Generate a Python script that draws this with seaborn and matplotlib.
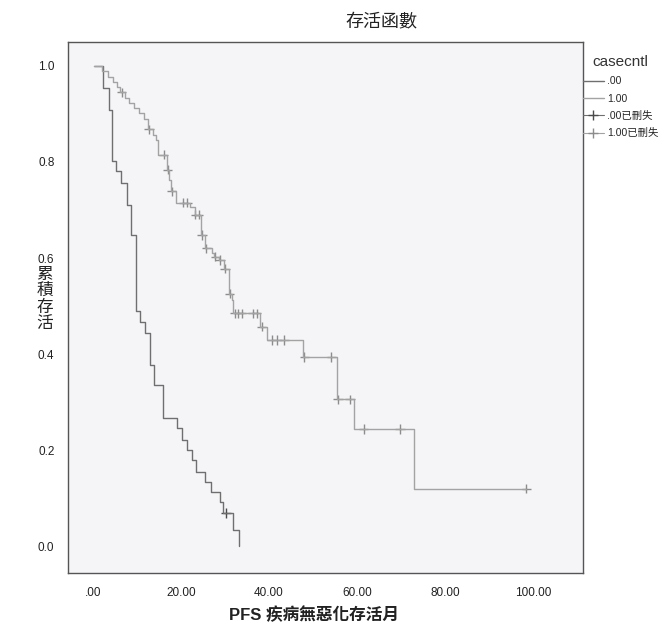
import bisect
import pandas as pd
import matplotlib
matplotlib.use("Agg")
import matplotlib.pyplot as plt
from matplotlib.lines import Line2D
import seaborn as sns

# ---- data ----
# casecntl .00 : event times (months) and survival after each event
t_00 = [0.3, 2.3, 3.6, 4.3, 5.3, 6.4, 7.8, 8.6, 9.8, 10.7, 11.8, 13.0, 13.9,
        15.9, 19.1, 20.2, 21.4, 22.5, 23.4, 25.5, 26.8, 28.9, 29.5, 31.8, 33.1]
s_00 = [1.0, 0.954, 0.908, 0.802, 0.781, 0.756, 0.710, 0.648, 0.490, 0.467,
        0.444, 0.377, 0.335, 0.267, 0.246, 0.221, 0.200, 0.179, 0.154, 0.133,
        0.112, 0.092, 0.069, 0.033, 0.0]
cens_00 = [30.2]

# casecntl 1.00
t_100 = [0.3, 2.0, 3.4, 4.5, 5.5, 6.2, 7.3, 8.3, 9.3, 10.5, 11.6, 12.5, 13.6,
         14.4, 14.8, 16.8, 17.3, 17.7, 18.9, 22.0, 23.1, 24.6, 25.5, 27.0,
         27.5, 28.6, 29.8, 31.0, 31.5, 31.9, 38.0, 39.5, 47.8, 55.5, 59.4,
         73.0, 98.5]
s_100 = [1.0, 0.989, 0.978, 0.967, 0.956, 0.945, 0.934, 0.923, 0.912, 0.901,
         0.890, 0.868, 0.857, 0.846, 0.815, 0.784, 0.763, 0.739, 0.715, 0.706,
         0.690, 0.648, 0.620, 0.610, 0.603, 0.596, 0.578, 0.526, 0.512, 0.485,
         0.457, 0.429, 0.394, 0.306, 0.244, 0.120, 0.120]
cens_100 = [6.5, 12.7, 16.1, 17.0, 17.9, 20.5, 21.4, 23.3, 24.0, 24.8, 25.8,
            27.8, 28.9, 30.0, 31.1, 32.3, 33.0, 33.8, 36.4, 37.2, 38.3, 40.6,
            41.8, 43.4, 48.0, 54.2, 55.7, 58.4, 61.5, 69.8, 98.5]

x_ticks = [0, 20, 40, 60, 80, 100]
x_ticklabels = [".00", "20.00", "40.00", "60.00", "80.00", "100.00"]
y_ticks = [0.0, 0.2, 0.4, 0.6, 0.8, 1.0]
y_ticklabels = ["0.0", "0.2", "0.4", "0.6", "0.8", "1.0"]
groups = [".00", "1.00"]
legend_labels = [".00", "1.00", ".00已刪失", "1.00已刪失"]


def surv_at(times, surv, c):
    # value of the step function at censoring time c
    return surv[bisect.bisect_right(times, c) - 1]


curves = pd.concat([
    pd.DataFrame({"t": t_00, "s": s_00, "grp": groups[0]}),
    pd.DataFrame({"t": t_100, "s": s_100, "grp": groups[1]}),
])
censored = pd.concat([
    pd.DataFrame({"t": cens_00, "s": [surv_at(t_00, s_00, c) for c in cens_00], "grp": groups[0]}),
    pd.DataFrame({"t": cens_100, "s": [surv_at(t_100, s_100, c) for c in cens_100], "grp": groups[1]}),
])

sns.set_style("white")
plt.rcParams["font.family"] = ["Liberation Sans", "Noto Sans CJK TC"]

line_cols = {".00": "#6f6f6f", "1.00": "#a3a3a3"}
mark_cols = {".00": "#4a4a4a", "1.00": "#8c8c8c"}

fig = plt.figure(figsize=(6.6, 6.36), dpi=100)
ax = fig.add_axes([0.1035, 0.099, 0.7795, 0.8355])
ax.set_facecolor("#f5f5f7")

sns.lineplot(data=curves, x="t", y="s", hue="grp", palette=line_cols,
             drawstyle="steps-post", estimator=None, sort=False,
             linewidth=1.0, legend=False, ax=ax)
sns.scatterplot(data=censored, x="t", y="s", hue="grp", palette=mark_cols,
                marker="+", s=45, linewidth=1.0, legend=False, ax=ax)

ax.set_xlim(-5.6, 111.3)
ax.set_ylim(-0.056, 1.0506)
ax.set_xticks(x_ticks)
ax.set_xticklabels(x_ticklabels)
ax.set_yticks(y_ticks)
ax.set_yticklabels(y_ticklabels)
ax.tick_params(direction="out", length=7, width=1.0, color="#333333",
               labelsize=8.5, labelcolor="#222222", pad=3)
ax.set_xlabel("")
ax.set_ylabel("")
for sp in ax.spines.values():
    sp.set_visible(True)
    sp.set_color("#555555")
    sp.set_linewidth(1.0)

# titles, SPSS style
fig.text(0.578, 0.965, "存活函數", ha="center", va="center", fontsize=13,
         color="#222222")
fig.text(0.476, 0.033, "PFS 疾病無惡化存活月", ha="center", va="center",
         fontsize=12, fontweight="bold", color="#222222")
# vertical y title sits between the 0.6 and 0.4 tick labels
fig.text(0.068, 0.530, "累\n積\n存\n活", ha="center", va="center",
         fontsize=12, linespacing=1.1, color="#222222")

handles = [
    Line2D([], [], color=line_cols[".00"], lw=1.0),
    Line2D([], [], color=line_cols["1.00"], lw=1.0),
    Line2D([], [], color=line_cols[".00"], lw=0.8, marker="+", markersize=7,
           markeredgecolor=mark_cols[".00"]),
    Line2D([], [], color=line_cols["1.00"], lw=0.8, marker="+", markersize=7,
           markeredgecolor=mark_cols["1.00"]),
]
leg = ax.legend(handles, legend_labels, title="casecntl", loc="upper left",
                bbox_to_anchor=(1.0, 0.975), frameon=False, fontsize=7.5,
                title_fontsize=11, handlelength=2.0, handletextpad=0.3,
                labelspacing=0.7, borderpad=0, borderaxespad=0)
leg.get_title().set_color("#333333")

fig.savefig("out.png", dpi=100)
